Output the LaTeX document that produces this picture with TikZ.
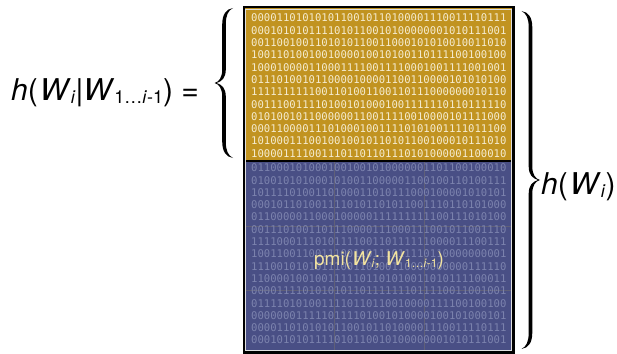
\documentclass[tikz,border=0pt]{standalone}
\usepackage{fontspec}
\setmainfont{TeX Gyre Heros}
\setmonofont{DejaVu Sans Mono}
\definecolor{goldfill}{RGB}{193,147,32}
\definecolor{bluefill}{RGB}{73,79,133}
\definecolor{goldtxt}{RGB}{245,236,208}
\definecolor{bluetxt}{RGB}{124,131,174}
\definecolor{pmitxt}{RGB}{243,228,160}
\definecolor{gridc}{RGB}{112,108,112}
\newcommand{\lowtxt}[1]{\raisebox{-3pt}{\fontsize{18}{18}\selectfont #1}}
\newcommand{\lowsmall}[1]{\raisebox{-2pt}{\fontsize{12}{12}\selectfont #1}}
\newcommand{\mybrace}[4]{%
  \pgfmathsetmacro\bxe{#1-9*(#4)}%
  \pgfmathsetmacro\bxo{#1+1.8*(#4)}%
  \pgfmathsetmacro\bxi{#1-1.8*(#4)}%
  \pgfmathsetmacro\bxt{#1+9.5*(#4)}%
  \pgfmathsetmacro\bxu{#1+7.5*(#4)}%
  \pgfmathsetmacro\bca{#1-2*(#4)}%
  \pgfmathsetmacro\bcb{#1+5*(#4)}%
  \pgfmathsetmacro\bcc{#1-4*(#4)}%
  \pgfmathsetmacro\bcd{#1+2*(#4)}%
  \pgfmathsetmacro\bym{(#2+#3)/2}%
  \fill[bracefill] (\bxe,#2) .. controls (\bca,{#2+1}) and (\bxo,{#2+6.5}) .. (\bxo,{#2+16.5})
    -- (\bxo,{\bym-13.5}) .. controls (\bxo,{\bym-5.5}) and (\bcb,{\bym-1}) .. (\bxt,\bym)
    .. controls (\bcb,{\bym+1}) and (\bxo,{\bym+5.5}) .. (\bxo,{\bym+13.5})
    -- (\bxo,{#3-16.5}) .. controls (\bxo,{#3-6.5}) and (\bca,{#3-1}) .. (\bxe,#3)
    .. controls (\bcc,{#3-2.5}) and (\bxi,{#3-7.5}) .. (\bxi,{#3-16.5})
    -- (\bxi,{\bym+13.5}) .. controls (\bxi,{\bym+5.5}) and (\bcd,{\bym+1.5}) .. (\bxu,\bym)
    .. controls (\bcd,{\bym-1.5}) and (\bxi,{\bym-5.5}) .. (\bxi,{\bym-13.5})
    -- (\bxi,{#2+16.5}) .. controls (\bxi,{#2+7.5}) and (\bcc,{#2+2.5}) .. (\bxe,#2) -- cycle;}
\tikzset{
  bitsg/.style={anchor=base west, inner sep=0pt, font=\ttfamily\fontsize{10.6}{12}\selectfont, text=goldtxt},
  bitsb/.style={anchor=base west, inner sep=0pt, font=\ttfamily\fontsize{10.6}{12}\selectfont, text=bluetxt},
  formula/.style={anchor=base west, inner sep=0pt, font=\fontsize{30}{36}\selectfont},
  pmilabel/.style={anchor=base, inner sep=0pt, font=\fontsize{19}{22}\selectfont, text=pmitxt},
  bracefill/.style={black},
  gridline/.style={draw=gridc, line width=0.6pt, opacity=0.6}
}
\begin{document}
\begin{tikzpicture}[x=1pt,y=-1pt]
\useasboundingbox (0,0) rectangle (617,353);
% box fills
\fill[goldfill] (244,7.5) rectangle (513,161);
\fill[bluefill] (244,161) rectangle (513,352.5);
% faint grid in blue part
\draw[gridline] (334.5,162) -- (334.5,352);
\draw[gridline] (424,162) -- (424,352);
\draw[gridline] (245,226) -- (512,226);
\draw[gridline] (245,290) -- (512,290);
% binary rows
\foreach \r [count=\i] in {
0000110101010110010110100001110011110111,
0001010101111010110010100000001010111001,
0011001001101010110011000101010010011010,
1001101001001000010010100110111100100100,
1000100001100011110011110001001111001001,
0111010010110000100001100110000101010100,
1111111111001101001100110111000000010110,
0011100111101001010001001111110110111110,
0101001011000000110011110010000101111000,
0001100001110100010011110101001111011100,
1010001110010010010110101100100010111010,
1000011110011101101101110101000001100010}
  \node[bitsg] (g\i) at (251,{21.9+12.3*(\i-1)}) {\r};
\foreach \r [count=\i] in {
0110001010001001001010000001101100100010,
0100101010001010011000001100100110100111,
1011110100110100011010111000100001010101,
0001011010011110101101011001110110101000,
0110000011000100000111111111100111010100,
0011101001101110000111000111001011001110,
1111000111010111100110111111000011100111,
1001100110011100110111011110110000000001,
1110010101011100110100110000000000111110,
1100001001001111101101010011010111100011,
0000111101010101101111111011110011001001,
0111101010011110110110010000111100100100,
0000000111110111101001010000100101000101,
0000110101010110010110100001110011110111,
0001010101111010110010100000001010111001}
  \node[bitsb] (b\i) at (251,{171.7+12.3*(\i-1)}) {\r};
% separator and borders
\draw[black, line width=1.8pt] (244,161) -- (513,161);
\draw[gray!25, line width=0.8pt] (245.7,9.2) rectangle (511.3,350.6);
\draw[black, line width=2.2pt] (243.6,7) rectangle (513.4,352.4);
% label in blue part
\node[pmilabel] (pmi) at (379,265) {pmi(\kern1pt\textit{W}\lowsmall{\textit{i}}; \textit{W}\lowsmall{1…\textit{i}-1})};
% braces
\mybrace{224}{8}{158}{-1}
\mybrace{530.5}{11}{349}{1}
% formulas
\node[formula] (lhs) at (11,100) {\textit{h}(\kern2pt\textit{W}\lowtxt{\textit{i}}|\textit{W}\lowtxt{1…\textit{i}-1}) =};
\node[formula] (rhs) at (541,194) {\textit{h}(\kern2pt\textit{W}\lowtxt{\textit{i}})};
\end{tikzpicture}
\end{document}
